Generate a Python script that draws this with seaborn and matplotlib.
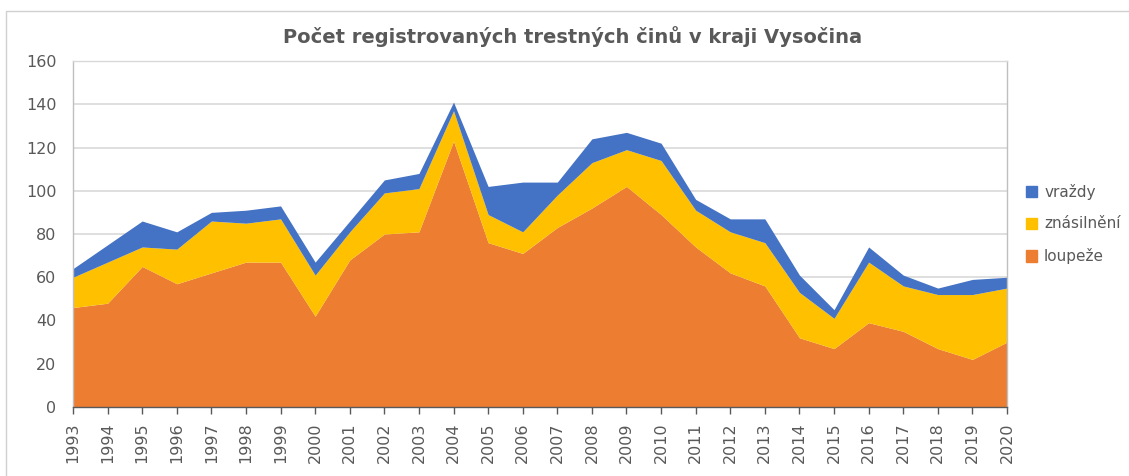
import numpy as np
import pandas as pd
import matplotlib
matplotlib.use("Agg")
import matplotlib.pyplot as plt
from matplotlib.patches import Rectangle, Patch
import seaborn as sns

# --- data ---
years = list(range(1993, 2021))
loupeze = [46, 48, 65, 57, 62, 67, 67, 42, 68, 80, 81, 123, 76, 71,
           83, 92, 102, 89, 74, 62, 56, 32, 27, 39, 35, 27, 22, 30]
znasilneni = [14, 19, 9, 16, 24, 18, 20, 19, 13, 19, 20, 14, 13, 10,
              15, 21, 17, 25, 17, 19, 20, 21, 14, 28, 21, 25, 30, 25]
vrazdy = [4, 8, 12, 8, 4, 6, 6, 6, 5, 6, 7, 4, 13, 23,
          6, 11, 8, 8, 5, 6, 11, 8, 4, 7, 5, 3, 7, 5]
series_names = ["loupeže", "znásilnění", "vraždy"]
title = "Počet registrovaných trestných činů v kraji Vysočina"

df = pd.DataFrame({"rok": years, "loupeže": loupeze,
                   "znásilnění": znasilneni, "vraždy": vrazdy})

colors = ["#ED7D31", "#FFC000", "#4472C4"]
text_gray = "#595959"

sns.set_theme(style="white")
plt.rcParams["font.family"] = ["DejaVu Sans"]

fig = plt.figure(figsize=(11.29, 4.76), dpi=100)
ax = fig.add_axes([73 / 1129, 1 - 407 / 476, (1007 - 73) / 1129, (407 - 61) / 476])

ax.stackplot(df["rok"], [df[c] for c in series_names], colors=colors,
             linewidth=0, zorder=2)

ax.set_xlim(1993, 2020)
ax.set_ylim(0, 160)
ax.set_yticks(range(0, 161, 20))
ax.set_xticks(years)
ax.set_xticklabels([str(y) for y in years], rotation=90)

ax.grid(axis="y", color="#d9d9d9", linewidth=1.2, zorder=0)
ax.grid(axis="x", visible=False)
ax.tick_params(axis="y", length=0, pad=12, labelsize=11.5, labelcolor=text_gray)
ax.tick_params(axis="x", length=5, width=1, color=text_gray, direction="out",
               pad=6, labelsize=11.5, labelcolor=text_gray, bottom=True)

for side in ["left", "right", "top"]:
    ax.spines[side].set_color("#bfbfbf")
    ax.spines[side].set_linewidth(1)
ax.spines["top"].set_color("#d9d9d9")
ax.spines["bottom"].set_color(text_gray)
ax.spines["bottom"].set_linewidth(1)
ax.spines["bottom"].set_zorder(3)

fig.text(0.507, 1 - 37 / 476, title, ha="center", va="center",
         fontsize=14, fontweight="bold", color=text_gray)

handles = [Patch(color=c) for c in colors][::-1]
labels = series_names[::-1]
leg = fig.legend(handles, labels, loc="center left",
                 bbox_to_anchor=(1012 / 1129, 1 - 224 / 476),
                 frameon=False, fontsize=11, handlelength=0.75,
                 handleheight=0.75, handletextpad=0.45, labelspacing=1.1)
for t in leg.get_texts():
    t.set_color(text_gray)

# outer chart border
fig.patches.append(Rectangle((6 / 1129, -0.1), 1.2, 1 - 11 / 476 + 0.1,
                             transform=fig.transFigure, fill=False,
                             edgecolor="#d0d0d0", linewidth=1))

fig.savefig("out.png", dpi=100)
